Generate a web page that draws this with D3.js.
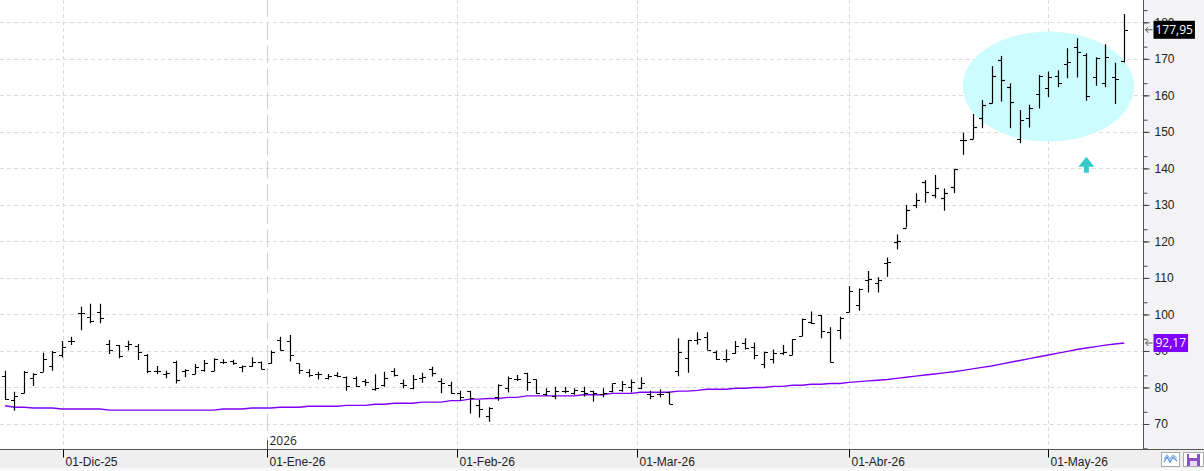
<!DOCTYPE html>
<html>
<head>
<meta charset="utf-8">
<script src="https://cdn.jsdelivr.net/npm/d3@7/dist/d3.min.js"></script>
<style>
  body { margin: 0; background: #fff; }
  svg { display: block; font-family: "Segoe UI", "Open Sans", "Noto Sans", sans-serif; }
</style>
</head>
<body>
<svg id="chart" width="1204" height="471"></svg>
<script>
// daily OHLC (one entry per session)
var opens = [83.2, 76.5, 78.4, 82.5, 84.3, 86.0, 89.0, 92.8, 100.3, 99.2, 100.6, 92.0, 91.5, 91.4, 91.4, 89.0, 84.6, 83.8, 87.0, 84.5,
  83.8, 84.7, 84.6, 87.0, 87.2, 85.6, 85.9, 87.1, 86.7, 93.1, 92.6, 86.6, 84.2, 83.8, 82.5, 83.3, 83.0, 82.7, 81.8, 79.5,
  80.6, 84.4, 81.3, 79.8, 82.5, 85.1, 81.8, 80.7, 78.4, 78.9, 75.2, 72.1, 77.3, 79.8, 82.2, 83.9, 82.2, 78.2, 77.7, 79.1,
  78.4, 78.9, 78.9, 78.2, 78.9, 79.2, 80.0, 79.8, 78.1, 78.3, 78.8, 84.6, 88.0, 93.0, 93.8, 89.8, 87.8, 89.4, 92.1, 91.1,
  86.5, 87.9, 89.4, 88.9, 94.1, 97.9, 99.8, 95.1, 95.7, 100.8, 102.6, 109.4, 108.5, 114.0, 119.9, 123.8, 130.0, 136.2, 132.7, 132.0,
  134.8, 147.8, 148.0, 153.7, 157.8, 169.8, 162.2, 148.0, 153.7, 160.3, 161.9, 165.4, 168.6, 173.2, 171.0, 164.9, 163.5, 165.1, 169.3];
var highs = [84.6, 78.8, 84.5, 83.9, 89.5, 90.0, 92.7, 93.9, 102.1, 102.9, 102.9, 93.0, 91.6, 92.8, 91.9, 89.2, 85.9, 84.6, 87.3, 85.0,
  86.4, 87.5, 88.0, 87.7, 87.6, 86.0, 88.3, 87.1, 90.1, 93.9, 94.4, 86.6, 85.0, 84.3, 83.7, 84.2, 83.0, 83.0, 82.3, 83.6,
  84.3, 85.3, 82.2, 83.4, 84.0, 85.7, 82.5, 81.6, 79.1, 79.1, 76.6, 74.6, 80.9, 83.0, 83.4, 84.0, 82.2, 79.8, 80.2, 80.2,
  79.8, 80.2, 79.1, 79.8, 81.1, 81.8, 82.2, 82.8, 79.1, 79.5, 78.8, 93.5, 93.0, 95.1, 95.1, 90.1, 90.4, 92.7, 93.5, 92.3,
  89.8, 90.4, 91.6, 93.2, 98.9, 100.8, 99.8, 96.5, 99.4, 107.8, 107.1, 111.9, 110.2, 115.6, 121.9, 130.0, 133.2, 136.8, 138.2, 134.5,
  139.8, 149.8, 154.9, 158.7, 168.0, 170.8, 163.3, 156.0, 157.4, 165.6, 166.5, 166.9, 172.9, 175.6, 171.5, 170.4, 174.0, 168.9, 182.3];
var lows = [76.6, 73.6, 78.4, 80.4, 84.3, 84.6, 88.2, 91.6, 95.7, 97.6, 97.6, 89.2, 88.0, 90.1, 87.5, 83.9, 83.7, 82.5, 81.1, 82.8,
  83.7, 84.3, 84.5, 86.4, 86.2, 84.2, 85.7, 85.0, 86.6, 90.1, 87.1, 83.7, 82.8, 82.2, 82.2, 82.8, 79.1, 80.2, 80.4, 79.1,
  80.2, 83.0, 79.8, 79.5, 81.3, 83.0, 78.4, 78.2, 76.4, 72.9, 71.8, 70.6, 76.4, 78.6, 81.8, 79.1, 78.2, 77.7, 76.8, 78.4,
  78.0, 77.5, 76.1, 77.3, 78.6, 78.8, 78.6, 79.5, 76.8, 77.3, 75.5, 83.1, 84.0, 91.8, 90.3, 87.5, 86.9, 89.2, 90.4, 87.7,
  85.3, 86.6, 88.9, 88.9, 94.1, 97.4, 93.5, 86.9, 93.2, 100.5, 101.0, 106.0, 106.0, 110.3, 117.8, 123.8, 129.1, 130.6, 131.8, 128.4,
  133.2, 143.7, 148.0, 151.0, 157.8, 158.3, 151.0, 146.9, 151.2, 156.4, 159.5, 162.2, 164.7, 164.9, 158.5, 162.6, 162.2, 157.6, 169.0];
var closes = [76.8, 77.8, 84.3, 83.6, 87.7, 89.6, 91.2, 92.6, 100.5, 98.2, 98.9, 90.3, 88.7, 92.0, 89.8, 84.6, 84.6, 84.0, 82.0, 84.7,
  85.6, 86.6, 87.7, 87.1, 86.6, 85.8, 87.0, 85.0, 89.7, 90.3, 88.9, 84.8, 83.3, 83.6, 83.1, 83.1, 80.4, 80.4, 81.4, 79.8,
  82.7, 83.4, 80.7, 82.2, 83.0, 84.0, 81.3, 78.4, 77.3, 77.1, 74.0, 74.4, 80.6, 82.7, 82.4, 81.6, 78.4, 79.1, 79.1, 79.1,
  79.2, 78.4, 78.4, 78.5, 81.1, 81.0, 81.6, 81.3, 77.7, 78.3, 75.5, 89.6, 92.9, 93.2, 90.3, 87.8, 87.9, 91.4, 90.7, 88.9,
  89.6, 89.4, 89.8, 93.2, 98.8, 97.7, 95.4, 86.9, 98.9, 106.5, 107.1, 109.6, 109.4, 114.3, 120.0, 128.6, 131.3, 133.6, 134.5, 133.2,
  139.8, 147.9, 151.2, 157.4, 165.4, 164.2, 158.1, 153.2, 156.4, 165.3, 165.0, 163.5, 169.0, 172.0, 159.9, 170.2, 170.6, 164.4, 177.95];
// long moving average (purple line), one value per session
var movingAvg = [75.0, 74.6, 74.6, 74.4, 74.4, 74.4, 74.1, 74.1, 74.1, 74.1, 74.1, 73.8, 73.8, 73.8, 73.8, 73.8, 73.8, 73.8, 73.8, 73.8,
  73.8, 73.8, 73.8, 74.1, 74.1, 74.1, 74.4, 74.4, 74.4, 74.6, 74.6, 74.6, 74.85, 74.85, 74.85, 74.85, 75.1, 75.1, 75.1, 75.4,
  75.4, 75.7, 75.7, 75.7, 76.0, 76.0, 76.0, 76.4, 76.4, 76.8, 76.8, 77.0, 77.0, 77.3, 77.3, 77.7, 77.7, 77.7, 77.7, 77.7,
  77.7, 78.0, 78.0, 78.0, 78.4, 78.4, 78.4, 78.7, 78.7, 78.7, 78.7, 79.0, 79.0, 79.2, 79.5, 79.5, 79.5, 79.8, 79.8, 80.0,
  80.0, 80.3, 80.3, 80.6, 80.6, 80.9, 80.9, 81.1, 81.1, 81.4, 81.6, 81.8, 82.0, 82.2, 82.5, 82.8, 83.1, 83.4, 83.7, 84.0,
  84.3, 84.7, 85.1, 85.5, 85.9, 86.4, 86.9, 87.4, 87.9, 88.4, 88.9, 89.4, 89.9, 90.4, 90.8, 91.2, 91.6, 91.9, 92.17];

var monthLabels = ["01-Dic-25", "01-Ene-26", "01-Feb-26", "01-Mar-26", "01-Abr-26", "01-May-26"];
var monthPos = [6.1, 27.65, 47.65, 66.65, 89, 110]; // in session index units
var yearLabel = "2026";
var yearPos = 27.65;
var priceTicks = [70, 80, 90, 100, 110, 120, 130, 140, 150, 160, 170, 180];
// highlighted zone (ellipse) and arrow annotation, in session / price units
var zone = { bar: 110, price: 162.4, halfBars: 9.03, halfPrice: 15.06 };
var arrowMark = { bar: 114, tip: 143.2, base: 138.8 };

var svg = d3.select("#chart");
var width = +svg.attr("width");
var height = +svg.attr("height");
var plotRight = 1143.5;
var plotBottom = 449.5;

var x = d3.scaleLinear().domain([0, 118]).range([5, 1124.3]);
var y = d3.scaleLinear().domain([70, 180]).range([424, 22.3]);
var fmt = function (v) { return d3.format(".2f")(v).replace(".", ","); };

// backgrounds
svg.append("rect").attr("width", width).attr("height", height).attr("fill", "#fff");
svg.append("rect").attr("x", plotRight).attr("y", 0).attr("width", width - plotRight).attr("height", plotBottom)
  .attr("fill", "#f3f3f5");
svg.append("rect").attr("x", 0).attr("y", plotBottom).attr("width", width).attr("height", 19)
  .attr("fill", "#efefef");
svg.append("rect").attr("x", 0).attr("y", plotBottom + 19).attr("width", width).attr("height", 3)
  .attr("fill", "#f9f9f9");

svg.append("clipPath").attr("id", "clip")
  .append("rect").attr("width", plotRight).attr("height", plotBottom);
var canvas = svg.append("g").attr("clip-path", "url(#clip)");

// grid
canvas.selectAll("line.hgrid").data(priceTicks).enter().append("line")
  .attr("class", "hgrid")
  .attr("x1", 0).attr("x2", plotRight)
  .attr("y1", function (d) { return Math.round(y(d)) + 0.5; })
  .attr("y2", function (d) { return Math.round(y(d)) + 0.5; })
  .style("stroke", "#dcdcdc").style("stroke-dasharray", "4,3");

canvas.selectAll("line.vgrid").data(monthPos.filter(function (d) { return d != yearPos; })).enter().append("line")
  .attr("class", "vgrid")
  .attr("x1", function (d) { return Math.round(x(d)) + 0.5; })
  .attr("x2", function (d) { return Math.round(x(d)) + 0.5; })
  .attr("y1", 0).attr("y2", plotBottom)
  .style("stroke", "#dcdcdc").style("stroke-dasharray", "4,3");

canvas.append("line")
  .attr("x1", Math.round(x(yearPos)) + 0.5).attr("x2", Math.round(x(yearPos)) + 0.5)
  .attr("y1", 0).attr("y2", plotBottom)
  .style("stroke", "#cfcfcf").style("stroke-dasharray", "17,6");

// highlighted zone
canvas.append("ellipse")
  .attr("cx", x(zone.bar)).attr("cy", y(zone.price))
  .attr("rx", x(zone.bar + zone.halfBars) - x(zone.bar))
  .attr("ry", y(zone.price - zone.halfPrice) - y(zone.price))
  .attr("fill", "#ccfcfd");

// moving average
var avgLine = d3.line()
  .x(function (d, i) { return x(i); })
  .y(function (d) { return y(d); });
canvas.append("path").datum(movingAvg)
  .attr("d", avgLine)
  .attr("fill", "none").style("stroke", "#8000ff").style("stroke-width", 1.4);

// OHLC bars
var bars = canvas.selectAll("g.bar").data(d3.range(opens.length)).enter().append("g")
  .attr("class", "bar")
  .attr("transform", function (i) { return "translate(" + (Math.round(x(i)) + 0.5) + ",0)"; })
  .style("stroke", "#000").style("stroke-width", 1.2);
bars.append("line")
  .attr("y1", function (i) { return y(highs[i]); })
  .attr("y2", function (i) { return y(lows[i]); });
bars.append("line")
  .attr("x1", -3.5).attr("x2", 0)
  .attr("y1", function (i) { return Math.round(y(opens[i])) + 0.5; })
  .attr("y2", function (i) { return Math.round(y(opens[i])) + 0.5; });
bars.append("line")
  .attr("x1", 0).attr("x2", 3.5)
  .attr("y1", function (i) { return Math.round(y(closes[i])) + 0.5; })
  .attr("y2", function (i) { return Math.round(y(closes[i])) + 0.5; });

// up arrow
var ax = x(arrowMark.bar), aTop = y(arrowMark.tip), aBot = y(arrowMark.base);
var headBase = aTop + (aBot - aTop) * 0.62;
canvas.append("path")
  .attr("d", "M" + ax + "," + aTop + "L" + (ax + 8) + "," + headBase + "L" + (ax + 2.5) + "," + headBase +
    "L" + (ax + 2.5) + "," + aBot + "L" + (ax - 2.5) + "," + aBot + "L" + (ax - 2.5) + "," + headBase +
    "L" + (ax - 8) + "," + headBase + "Z")
  .attr("fill", "#33cbcb");

// right axis
var minor = d3.range(-2, 36).map(function (k) { return 70 + k * 10 / 3; })
  .filter(function (d, k) { return (k + 2) % 3 != 0; });
var yAxisMinor = d3.axisRight(y).tickValues(minor).tickSize(4).tickFormat("");
var yAxis = d3.axisRight(y).tickValues(priceTicks).tickSize(6).tickPadding(5).tickFormat(d3.format("d"));
var gYm = svg.append("g").attr("transform", "translate(" + plotRight + ",0)").call(yAxisMinor);
var gY = svg.append("g").attr("transform", "translate(" + plotRight + ",0)").call(yAxis);
gYm.select(".domain").remove();
gY.select(".domain").remove();
svg.selectAll(".tick line").style("stroke", "#444");
gY.selectAll("text").style("font-size", "12px").style("fill", "#222");
svg.append("line").attr("x1", plotRight).attr("x2", plotRight).attr("y1", 0).attr("y2", plotBottom)
  .style("stroke", "#555");

// bottom axis
var xAxis = d3.axisBottom(x).tickValues(monthPos).tickSize(8)
  .tickFormat(function (d, i) { return monthLabels[i]; });
var gX = svg.append("g").attr("transform", "translate(0," + plotBottom + ")").call(xAxis);
gX.select(".domain").remove();
gX.selectAll(".tick").attr("transform", function (d) { return "translate(" + (Math.round(x(d)) + 0.5) + ",0)"; });
gX.selectAll("text").attr("text-anchor", "start").attr("x", 2).attr("y", 16).attr("dy", 0)
  .style("font-size", "12px").style("fill", "#222");
svg.append("line").attr("x1", 0).attr("x2", width).attr("y1", plotBottom).attr("y2", plotBottom)
  .style("stroke", "#555");

var yx = Math.round(x(yearPos)) + 0.5;
svg.append("line").attr("x1", yx).attr("x2", yx).attr("y1", plotBottom - 9).attr("y2", plotBottom)
  .style("stroke", "#444");
svg.append("text").attr("x", yx + 2).attr("y", plotBottom - 5).text(yearLabel)
  .style("font-size", "12px").style("fill", "#222");

// last value tags
function valueTag(v, color) {
  var cy = y(v);
  var g = svg.append("g");
  g.append("path")
    .attr("d", "M" + (plotRight + 9) + "," + cy + "H" + (plotRight + 2) +
      "M" + (plotRight + 5) + "," + (cy - 3) + "L" + (plotRight + 2) + "," + cy + "L" + (plotRight + 5) + "," + (cy + 3))
    .attr("fill", "none").style("stroke", "#555");
  var rect = g.append("rect").attr("fill", color);
  var t = g.append("text").attr("x", plotRight + 12).attr("y", cy).attr("dy", "0.36em")
    .text(fmt(v)).style("font-size", "12px").style("fill", "#fff");
  var w = t.node().getComputedTextLength();
  rect.attr("x", plotRight + 10).attr("y", cy - 9).attr("width", w + 4).attr("height", 18);
}
valueTag(closes[closes.length - 1], "#000");
valueTag(movingAvg[movingAvg.length - 1], "#8000ff");

// toolbar icons
var icons = svg.append("g");
icons.append("rect").attr("x", 1161.5).attr("y", 452.5).attr("width", 18).attr("height", 14)
  .attr("fill", "#fff").style("stroke", "#aaa");
icons.append("path").attr("d", "M1164,462 L1167,457 L1170,462 L1173,457 L1177,461")
  .attr("fill", "none").style("stroke", "#4a90d9").style("stroke-width", 1.2);
icons.append("path").attr("d", "M1164,459 L1167,455 L1170,459 L1173,455 L1177,458")
  .attr("fill", "none").style("stroke", "#8fb8e8").style("stroke-width", 1.2);
icons.append("rect").attr("x", 1183.5).attr("y", 452.5).attr("width", 20).attr("height", 14)
  .attr("fill", "#fff").style("stroke", "#aaa");
icons.append("rect").attr("x", 1187).attr("y", 454).attr("width", 13).attr("height", 12).attr("fill", "#8a52c8");
icons.append("rect").attr("x", 1189).attr("y", 454).attr("width", 8).attr("height", 4).attr("fill", "#fff");
icons.append("rect").attr("x", 1190).attr("y", 461).attr("width", 7).attr("height", 5).attr("fill", "#e8dcf4");
</script>
</body>
</html>
